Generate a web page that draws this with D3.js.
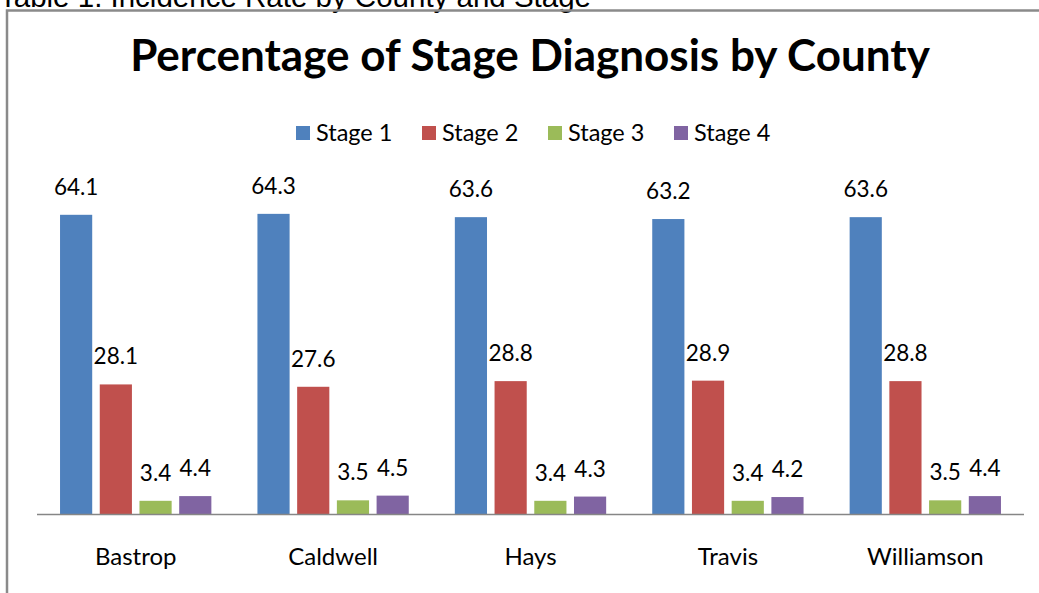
<!DOCTYPE html>
<html>
<head>
<meta charset="utf-8">
<script src="https://cdn.jsdelivr.net/npm/d3@7"></script>
<style>
  body { margin: 0; background: #fff; }
  svg { display: block; }
</style>
</head>
<body>
<div id="chart"></div>
<script>
// ---------------------------------------------------
// DATA — percentage of stage at diagnosis per county
// ---------------------------------------------------
const counties = ["Bastrop", "Caldwell", "Hays", "Travis", "Williamson"];
const stages = ["Stage 1", "Stage 2", "Stage 3", "Stage 4"];
const stage1 = [64.1, 64.3, 63.6, 63.2, 63.6];
const stage2 = [28.1, 27.6, 28.8, 28.9, 28.8];
const stage3 = [3.4, 3.5, 3.4, 3.4, 3.5];
const stage4 = [4.4, 4.5, 4.3, 4.2, 4.4];
const stageColors = ["#4F81BD", "#C0504D", "#9BBB59", "#8064A2"];

const seriesValues = [stage1, stage2, stage3, stage4];
const rows = counties.flatMap((c, i) =>
  stages.map((s, j) => ({ county: c, stage: s, value: seriesValues[j][i] }))
);

// ---------------------------------------------------
// DIMENSIONS
// ---------------------------------------------------
const width = 1039;
const height = 593;
const plot = { left: 37, right: 1024, top: 187, bottom: 514 };
const font = "Lato, Carlito, sans-serif";

const svg = d3.select("#chart")
  .append("svg")
  .attr("width", width)
  .attr("height", height);

// caption of the page above the chart (cut off at the top)
svg.append("text")
  .attr("x", -1)
  .attr("y", 6.5)
  .attr("font-family", "Liberation Sans, Arial, sans-serif")
  .attr("font-size", 29.5)
  .attr("fill", "#000")
  .text("Table 1. Incidence Rate by County and Stage");

// chart frame (only top and left edges visible)
svg.append("path")
  .attr("d", `M7,${height + 2} V10.5 H${width + 2}`)
  .attr("fill", "none")
  .attr("stroke", "#8a8a8a")
  .attr("stroke-width", 2.5);

// ---------------------------------------------------
// TITLE
// ---------------------------------------------------
svg.append("text")
  .attr("x", 530)
  .attr("y", 71)
  .attr("text-anchor", "middle")
  .attr("font-family", font)
  .attr("font-weight", "bold")
  .attr("font-size", 44)
  .attr("fill", "#000")
  .text("Percentage of Stage Diagnosis by County");

// ---------------------------------------------------
// SCALES
// ---------------------------------------------------
const x0 = d3.scaleBand()
  .domain(counties)
  .range([plot.left, plot.right]);

const x1 = d3.scaleBand()
  .domain(stages)
  .range([0, x0.bandwidth()])
  .paddingInner(0.19)
  .paddingOuter(0.58);

const y = d3.scaleLinear()
  .domain([0.6, 70])
  .range([plot.bottom, plot.top]);

const color = d3.scaleOrdinal()
  .domain(stages)
  .range(stageColors);

// ---------------------------------------------------
// LEGEND
// ---------------------------------------------------
const legend = svg.append("g")
  .attr("transform", "translate(296, 126)");

const legendItem = legend.selectAll(".legend-item")
  .data(stages)
  .join("g")
  .attr("class", "legend-item")
  .attr("transform", (d, i) => `translate(${i * 126}, 0)`);

legendItem.append("rect")
  .attr("width", 14)
  .attr("height", 14)
  .attr("fill", d => color(d));

legendItem.append("text")
  .attr("x", 20)
  .attr("y", 15)
  .attr("font-family", font)
  .attr("font-size", 23.5)
  .attr("fill", "#000")
  .text(d => d);

// ---------------------------------------------------
// BARS + LABELS
// ---------------------------------------------------
const g = svg.append("g");

g.selectAll(".bar")
  .data(rows)
  .join("rect")
  .attr("class", "bar")
  .attr("x", d => x0(d.county) + x1(d.stage))
  .attr("y", d => y(d.value))
  .attr("width", x1.bandwidth())
  .attr("height", d => plot.bottom - y(d.value))
  .attr("fill", d => color(d.stage));

g.selectAll(".bar-label")
  .data(rows)
  .join("text")
  .attr("class", "bar-label")
  .attr("x", d => x0(d.county) + x1(d.stage) + x1.bandwidth() / 2)
  .attr("y", d => y(d.value) - 20)
  .attr("text-anchor", "middle")
  .attr("font-family", font)
  .attr("font-size", 22.5)
  .attr("fill", "#000")
  .text(d => d3.format(".1f")(d.value));

// ---------------------------------------------------
// X AXIS
// ---------------------------------------------------
const xAxis = svg.append("g")
  .attr("transform", `translate(0,${plot.bottom})`)
  .call(d3.axisBottom(x0).tickSize(0));

xAxis.select(".domain")
  .attr("stroke", "#868686")
  .attr("stroke-width", 1.5)
  .attr("d", `M${plot.left},0.5H${plot.right}`);

xAxis.selectAll(".tick text")
  .attr("y", 51)
  .attr("dy", null)
  .attr("font-family", font)
  .attr("font-size", 24)
  .attr("fill", "#000");
</script>
</body>
</html>
